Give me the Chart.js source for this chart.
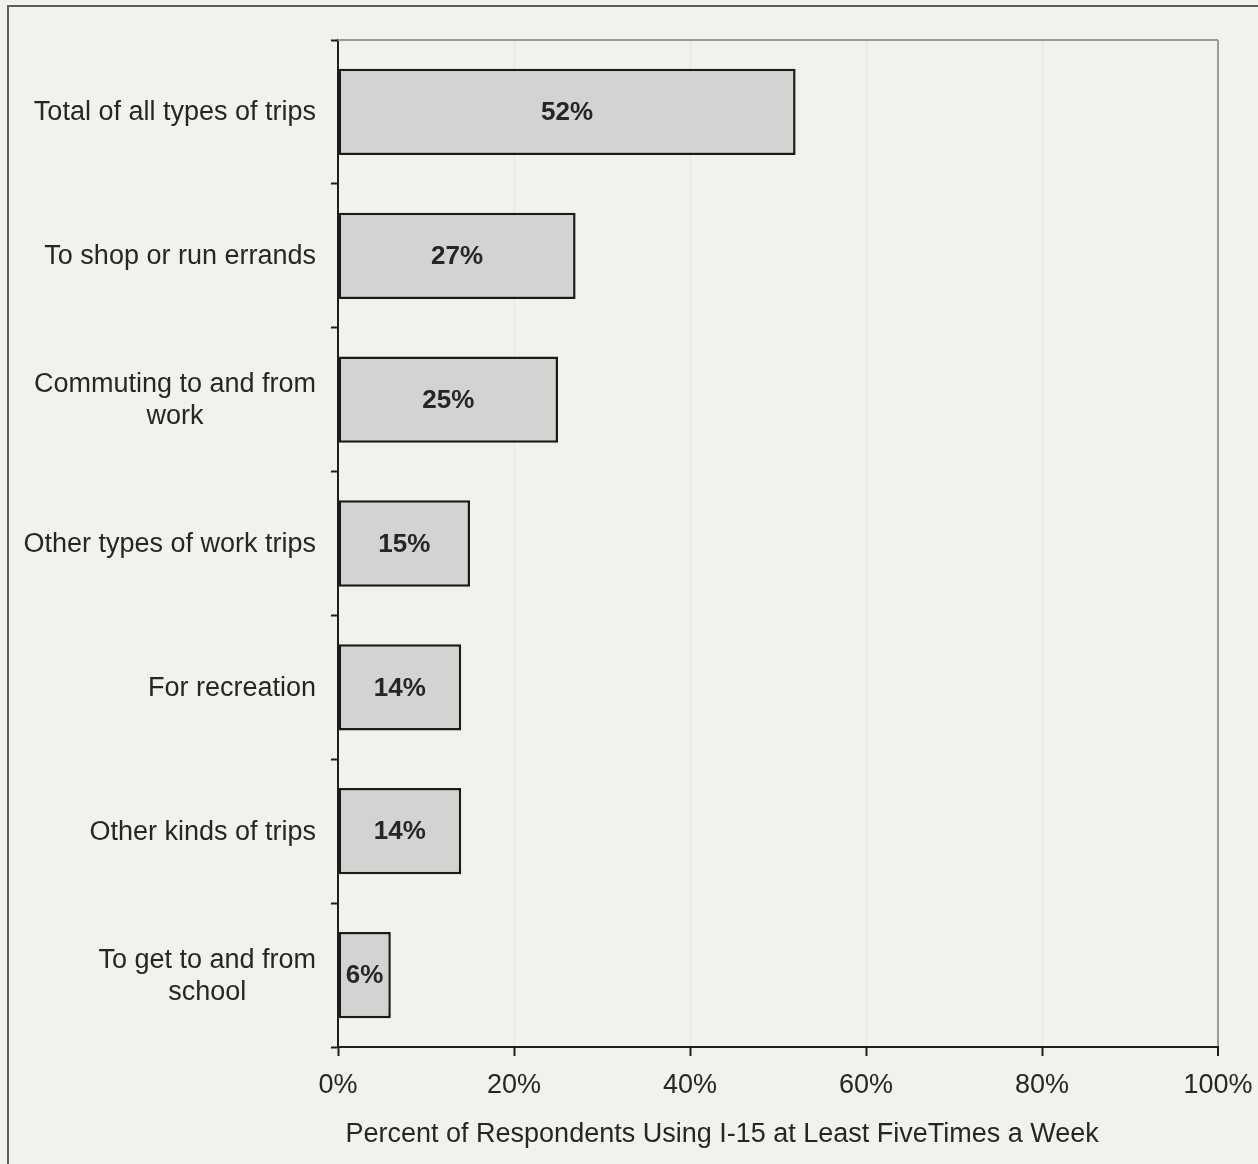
<!DOCTYPE html>
<html>
<head>
<meta charset="utf-8">
<script src="https://cdn.jsdelivr.net/npm/chart.js@4/dist/chart.umd.min.js"></script>
<style>
  html, body { margin: 0; padding: 0; background: #f2f2ed; }
  #wrap { width: 1258px; height: 1164px; position: relative; }
</style>
</head>
<body>
<div id="wrap"><canvas id="trips"></canvas></div>
<script>
// trip types (multi-line labels as arrays)
const categories = [
  "Total of all types of trips",
  "To shop or run errands",
  ["Commuting to and from", "work"],
  "Other types of work trips",
  "For recreation",
  "Other kinds of trips",
  ["To get to and from", "school"]
];
const values = [52, 27, 25, 15, 14, 14, 6];
const xTicks = [0, 20, 40, 60, 80, 100];
const xTitle = " Percent of Respondents Using I-15 at Least FiveTimes a Week";

const FONT = '"Liberation Sans", Arial, sans-serif';
const INK = "#262626";

const decor = {
  id: "decor",
  beforeDraw(chart) {
    const { ctx, width, height } = chart;
    ctx.save();
    ctx.fillStyle = "#f2f2ed";
    ctx.fillRect(0, 0, width, height);
    // outer frame, cut by the page edges
    ctx.strokeStyle = "#5c5c5c";
    ctx.lineWidth = 2;
    ctx.beginPath();
    ctx.moveTo(8, height);
    ctx.lineTo(8, 6);
    ctx.lineTo(width, 6);
    ctx.stroke();
    ctx.restore();
  },
  beforeDatasetsDraw(chart) {
    const { ctx, chartArea: a } = chart;
    ctx.save();
    ctx.strokeStyle = "#9a9a9a";
    ctx.lineWidth = 2;
    ctx.beginPath();
    ctx.moveTo(a.left, a.top);
    ctx.lineTo(a.right, a.top);
    ctx.stroke();
    ctx.restore();
  },
  afterDatasetsDraw(chart) {
    const { ctx } = chart;
    ctx.save();
    ctx.font = "bold 26px " + FONT;
    ctx.fillStyle = INK;
    ctx.textAlign = "center";
    ctx.textBaseline = "middle";
    chart.getDatasetMeta(0).data.forEach((bar, i) => {
      const { x, y, base } = bar.getProps(["x", "y", "base"], true);
      ctx.fillText(values[i] + "%", (x + base) / 2, y + 1);
    });
    ctx.restore();
  },
  afterDraw(chart) {
    const { ctx, chartArea: a } = chart;
    const ys = chart.scales.y;
    ctx.save();
    ctx.font = "27px " + FONT;
    ctx.fillStyle = INK;
    ctx.textAlign = "center";
    ctx.textBaseline = "middle";
    categories.forEach((lab, i) => {
      const lines = Array.isArray(lab) ? lab : [lab];
      const w = Math.max(...lines.map(l => ctx.measureText(l).width));
      const cx = a.left - 22 - w / 2;
      const cy = ys.getPixelForValue(i) + 1;
      lines.forEach((l, k) => {
        ctx.fillText(l, cx, cy + (k - (lines.length - 1) / 2) * 32);
      });
    });
    ctx.restore();
  }
};

new Chart(document.getElementById("trips"), {
  type: "bar",
  data: {
    labels: categories,
    datasets: [{
      data: values,
      backgroundColor: "#d3d3d1",
      borderColor: "#1a1a1a",
      borderWidth: 2.5,
      borderSkipped: false,
      barPercentage: 0.6,
      categoryPercentage: 1
    }]
  },
  options: {
    indexAxis: "y",
    responsive: true,
    maintainAspectRatio: false,
    animation: false,
    devicePixelRatio: 1,
    layout: { padding: { top: 40, right: 40, left: 0, bottom: 0 } },
    plugins: { legend: { display: false }, tooltip: { enabled: false } },
    scales: {
      x: {
        min: 0,
        max: 100,
        afterBuildTicks: s => { s.ticks = xTicks.map(v => ({ value: v })); },
        afterFit: s => { s.height = 117; s.paddingRight = 0; },
        ticks: {
          callback: v => v + "%",
          color: INK,
          padding: 13,
          maxRotation: 0,
          font: { family: FONT, size: 27 }
        },
        grid: {
          color: ctx => {
            const v = ctx.tick && ctx.tick.value;
            if (v === 0) return "rgba(0,0,0,0)";
            if (v === 100) return "#9a9a9a";
            return "rgba(0,0,0,0.045)";
          },
          lineWidth: ctx => (ctx.tick && ctx.tick.value === 100 ? 2 : 1),
          tickColor: "#1e1e1e",
          tickWidth: 2,
          tickLength: 9
        },
        border: { color: "#1e1e1e", width: 2 },
        title: {
          display: true,
          text: xTitle,
          align: "start",
          color: INK,
          font: { family: FONT, size: 27 },
          padding: { top: 0, bottom: 13 }
        }
      },
      y: {
        afterFit: s => { s.width = 338; },
        ticks: { display: false },
        grid: {
          offset: true,
          drawOnChartArea: false,
          tickColor: "#1e1e1e",
          tickWidth: 2,
          tickLength: 7
        },
        border: { color: "#1e1e1e", width: 2 }
      }
    }
  },
  plugins: [decor]
});
</script>
</body>
</html>
